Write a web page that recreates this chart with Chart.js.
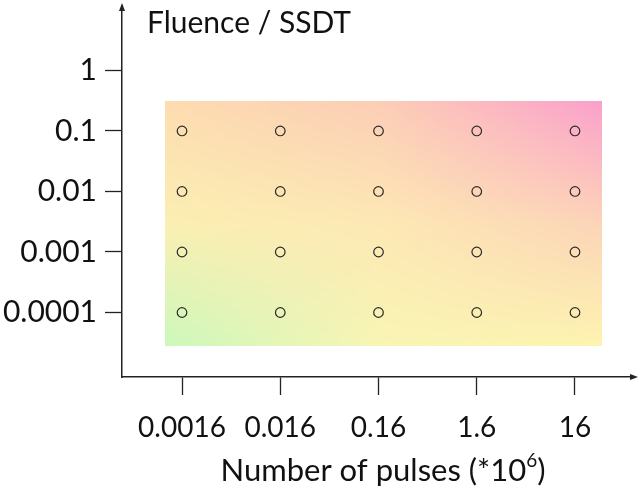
<!DOCTYPE html>
<html>
<head>
<meta charset="utf-8">
<script src="https://cdn.jsdelivr.net/npm/chart.js@4.4.1/dist/chart.umd.min.js"></script>
<style>
  body { margin: 0; background: #fff; }
</style>
</head>
<body>
<canvas id="myChart" width="640" height="495"></canvas>
<script>
// pulses (*10^6) and fluence / SSDT, both log spaced
const pulses = [0.0016, 0.016, 0.16, 1.6, 16];
const pulseLabels = ["0.0016", "0.016", "0.16", "1.6", "16"];
const fluence = [0.0001, 0.001, 0.01, 0.1];
const fluenceTicks = [0.0001, 0.001, 0.01, 0.1, 1];
const fluenceLabels = ["0.0001", "0.001", "0.01", "0.1", "1"];

// extent of the shaded field behind the points (data units)
const fieldX = [0.00107, 30];
const fieldY = [0.000028, 0.31];

// corner / edge colours of the shaded field, rows top -> bottom
const fieldColors = [
  ["#fddcb0", "#fccdb6", "#fba0cc"],
  ["#fbefb2", "#fde8b4", "#fcd4b8"],
  ["#ccf8bc", "#f9f5b4", "#fdf3b0"],
];

const points = [];
pulses.forEach((p) => {
  fluence.forEach((f) => {
    points.push({ x: p, y: f });
  });
});

function hex(c) {
  return [1, 3, 5].map((i) => parseInt(c.slice(i, i + 2), 16));
}

function lerp(a, b, t) {
  return a.map((v, i) => v + (b[i] - v) * t);
}

function fieldImage(w, h) {
  const off = document.createElement("canvas");
  off.width = w;
  off.height = h;
  const octx = off.getContext("2d");
  const img = octx.createImageData(w, h);
  const grid = fieldColors.map((row) => row.map(hex));
  for (let j = 0; j < h; j++) {
    const v = (j / (h - 1)) * 2;
    const r = Math.min(1, Math.floor(v));
    const tv = v - r;
    for (let i = 0; i < w; i++) {
      const u = (i / (w - 1)) * 2;
      const c = Math.min(1, Math.floor(u));
      const tu = u - c;
      const top = lerp(grid[r][c], grid[r][c + 1], tu);
      const bot = lerp(grid[r + 1][c], grid[r + 1][c + 1], tu);
      const col = lerp(top, bot, tv);
      const k = (j * w + i) * 4;
      img.data[k] = col[0];
      img.data[k + 1] = col[1];
      img.data[k + 2] = col[2];
      img.data[k + 3] = 255;
    }
  }
  octx.putImageData(img, 0, 0);
  return off;
}

const decor = {
  id: "decor",
  beforeDatasetsDraw(chart) {
    const { ctx } = chart;
    const x = chart.scales.x;
    const y = chart.scales.y;
    const l = Math.round(x.getPixelForValue(fieldX[0]));
    const r = Math.round(x.getPixelForValue(fieldX[1]));
    const t = Math.round(y.getPixelForValue(fieldY[1]));
    const b = Math.round(y.getPixelForValue(fieldY[0]));
    ctx.save();
    ctx.drawImage(fieldImage(r - l, b - t), l, t);
    ctx.restore();
  },
  afterDraw(chart) {
    const { ctx, chartArea } = chart;
    ctx.save();
    ctx.fillStyle = "#222";
    // arrow heads
    ctx.beginPath();
    ctx.moveTo(chartArea.left, chartArea.top - 3);
    ctx.lineTo(chartArea.left - 3, chartArea.top + 5);
    ctx.lineTo(chartArea.left + 3, chartArea.top + 5);
    ctx.closePath();
    ctx.fill();
    ctx.beginPath();
    ctx.moveTo(chartArea.right + 5, chartArea.bottom);
    ctx.lineTo(chartArea.right - 3, chartArea.bottom - 3);
    ctx.lineTo(chartArea.right - 3, chartArea.bottom + 3);
    ctx.closePath();
    ctx.fill();

    // titles
    ctx.fillStyle = "#111";
    ctx.textBaseline = "alphabetic";
    ctx.textAlign = "left";
    ctx.font = "30px Lato";
    ctx.fillText("Fluence / SSDT", 147, 33);

    const main = "Number of pulses (*10";
    const sup = "6";
    const end = ")";
    ctx.font = "31px Lato";
    const w1 = ctx.measureText(main).width;
    const w3 = ctx.measureText(end).width;
    ctx.font = "19px Lato";
    const w2 = ctx.measureText(sup).width;
    const x0 = 383 - (w1 + w2 + w3) / 2;
    ctx.font = "31px Lato";
    ctx.fillText(main, x0, 481);
    ctx.font = "19px Lato";
    ctx.fillText(sup, x0 + w1, 467);
    ctx.font = "31px Lato";
    ctx.fillText(end, x0 + w1 + w2, 481);
    ctx.restore();
  },
};

const ctx = document.getElementById("myChart").getContext("2d");
new Chart(ctx, {
  type: "scatter",
  data: {
    datasets: [
      {
        label: "runs",
        data: points,
        pointStyle: "circle",
        pointRadius: 4.8,
        pointHoverRadius: 4.8,
        pointBorderWidth: 1.2,
        pointBorderColor: "#2a2a2a",
        pointBackgroundColor: "rgba(0,0,0,0)",
      },
    ],
  },
  options: {
    responsive: false,
    animation: false,
    layout: { padding: { top: 3, right: 7, left: 0, bottom: 0 } },
    plugins: {
      legend: { display: false },
      tooltip: { enabled: false },
    },
    scales: {
      x: {
        type: "logarithmic",
        min: 0.000392,
        max: 62.3,
        afterBuildTicks: (scale) => {
          scale.ticks = pulses.map((v) => ({ value: v }));
        },
        afterFit: (scale) => {
          scale.height = 118;
          scale.paddingLeft = 0;
          scale.paddingRight = 0;
        },
        border: { display: true, color: "#222", width: 1.5 },
        grid: {
          drawOnChartArea: false,
          drawTicks: true,
          tickLength: 18,
          tickColor: "#222",
          tickWidth: 1.3,
        },
        ticks: {
          autoSkip: false,
          maxRotation: 0,
          padding: 16,
          color: "#111",
          font: { family: "Lato", size: 28 },
          callback: (v) => pulseLabels[pulses.indexOf(v)] ?? "",
        },
      },
      y: {
        type: "logarithmic",
        min: 0.0000086,
        max: 11.6,
        afterBuildTicks: (scale) => {
          scale.ticks = fluenceTicks.map((v) => ({ value: v }));
        },
        afterFit: (scale) => {
          scale.width = 122;
          scale.paddingTop = 0;
          scale.paddingBottom = 0;
        },
        border: { display: true, color: "#222", width: 1.5 },
        grid: {
          drawOnChartArea: false,
          drawTicks: true,
          tickLength: 17,
          tickColor: "#222",
          tickWidth: 1.3,
        },
        ticks: {
          autoSkip: false,
          padding: 8,
          color: "#111",
          font: { family: "Lato", size: 30 },
          callback: (v) => fluenceLabels[fluenceTicks.indexOf(v)] ?? "",
        },
      },
    },
  },
  plugins: [decor],
});
</script>
</body>
</html>
